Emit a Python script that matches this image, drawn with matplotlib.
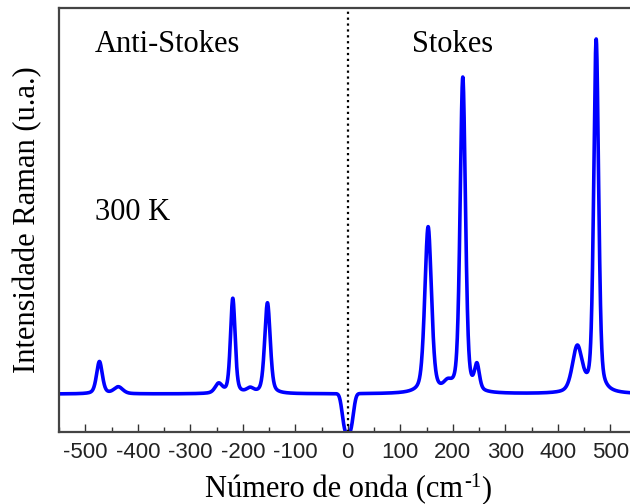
import numpy as np
import matplotlib
matplotlib.use("Agg")
import matplotlib.pyplot as plt

plt.rcParams["axes.unicode_minus"] = False

# Raman shift grid (cm^-1)
shift = np.linspace(-560, 560, 4481)

# Fitted band parameters: centre (cm^-1), height above background (a.u.), FWHM (cm^-1)
stokes_centers = [153, 190, 219, 246, 437, 473]
stokes_heights = [43.7, 2.0, 83.0, 6.5, 12.0, 93.0]
stokes_fwhm = [15, 18, 12, 11, 22, 11]

anti_centers = [-473, -437, -246, -219, -186, -153]
anti_heights = [8.5, 1.8, 2.5, 25.0, 1.2, 23.9]
anti_fwhm = [13, 20, 16, 10.5, 16, 12.5]

background = 10.0
notch_depth = 10.6
notch_width = 12.0

xticks = [-500, -400, -300, -200, -100, 0, 100, 200, 300, 400, 500]


def pseudo_voigt(x, c, h, w, eta=0.4):
    hw = w / 2.0
    lor = 1.0 / (1.0 + ((x - c) / hw) ** 2)
    gau = np.exp(-np.log(2) * ((x - c) / hw) ** 2)
    return h * (eta * lor + (1 - eta) * gau)


intensity = np.full_like(shift, background)
for c, h, w in zip(stokes_centers + anti_centers,
                   stokes_heights + anti_heights,
                   stokes_fwhm + anti_fwhm):
    intensity += pseudo_voigt(shift, c, h, w)
# Rayleigh notch filter around 0 cm^-1
intensity -= notch_depth * np.exp(-np.abs(shift / notch_width) ** 3)

W, H = 630, 504
fig = plt.figure(figsize=(W / 100, H / 100), dpi=100)
ax = fig.add_axes([59 / W, 72 / H, 577.6 / W, 424 / H])

ax.plot(shift, intensity, color="#0000ff", lw=2.6, solid_joinstyle="round")
ax.axvline(0, color="black", ls=":", lw=1.6)

ax.set_xlim(-547, 547)
ax.set_ylim(0, 111.6)

ax.set_xticks(xticks)
ax.set_xticks(np.arange(-550, 551, 50), minor=True)
ax.set_yticks([])
ax.tick_params(axis="x", which="major", direction="in", length=6, width=1.0,
               color="#333333", pad=7)
ax.tick_params(axis="x", which="minor", direction="in", length=3.5, width=1.0,
               color="#333333")
for lab in ax.get_xticklabels():
    lab.set_fontfamily("Liberation Sans")
    lab.set_fontsize(16)
    lab.set_color("#222222")

for side in ("left", "bottom", "top", "right"):
    ax.spines[side].set_color("#444444")
    ax.spines[side].set_linewidth(1.6)

serif = "Liberation Serif"
ax.set_ylabel("Intensidade Raman (u.a.)", fontfamily=serif, fontsize=22,
              labelpad=12)


def fig_text(px, py, s, **kw):
    """Place text at pixel position measured from the top-left corner."""
    return fig.text(px / W, 1 - py / H, s, fontfamily=serif, ha="left",
                    va="baseline", **kw)


fig_text(95, 52, "Anti-Stokes", fontsize=22)
fig_text(412, 52, "Stokes", fontsize=22)
fig_text(95, 220, "300 K", fontsize=22)

# x-axis label with a hyphenated superscript
renderer = fig.canvas.get_renderer()
x_px, base_px = 205, 497
parts = [("Número de onda (cm", 22, 0, 0), ("-1", 15, -10, 1), (")", 22, 0, 0)]
for s, size, rise, gap in parts:
    t = fig_text(x_px + gap, base_px + rise, s, fontsize=size)
    x_px += gap + t.get_window_extent(renderer).width

fig.savefig("out.png", dpi=100)
